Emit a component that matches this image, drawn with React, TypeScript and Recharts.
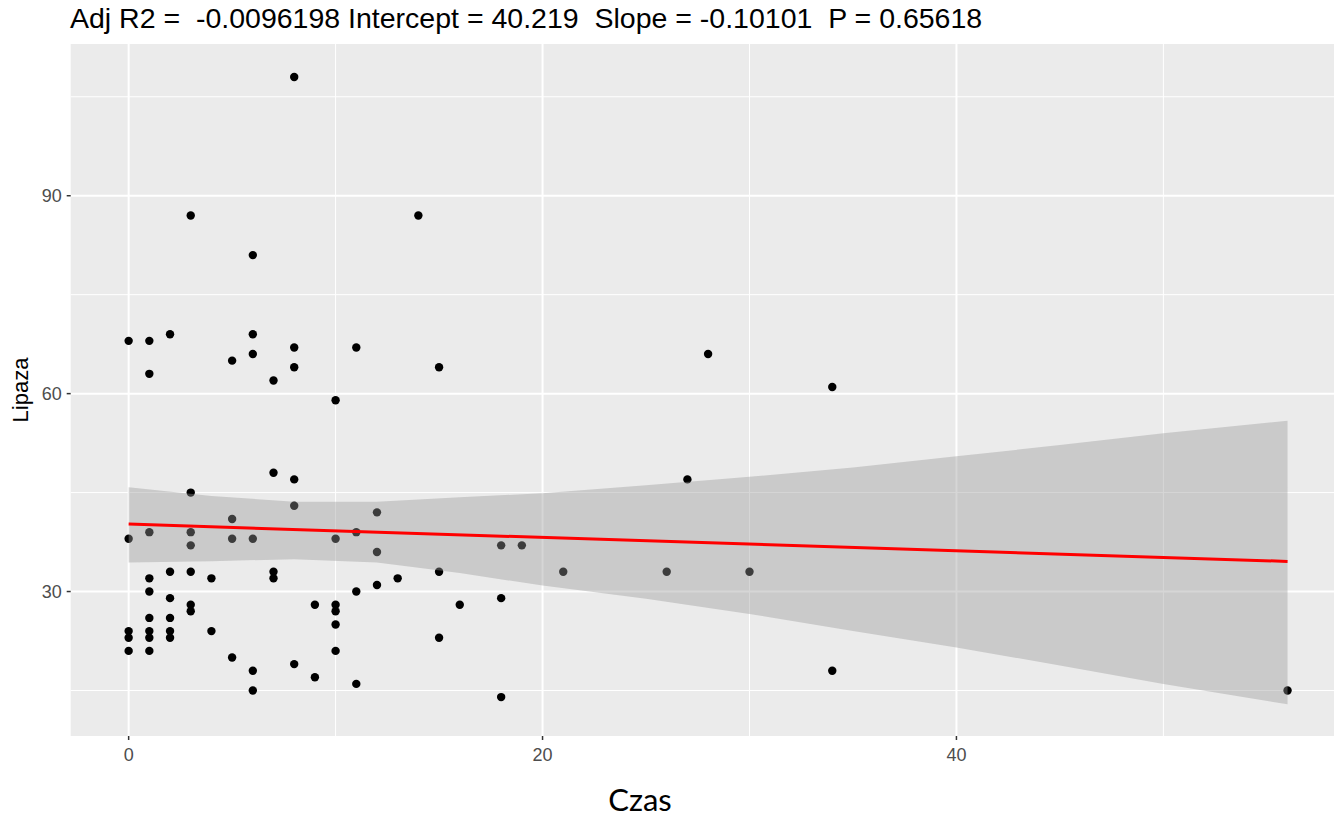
import React from 'react';
import { ComposedChart, Scatter, Area, Line, XAxis, YAxis, CartesianGrid } from 'recharts';

// Observations (Czas, Lipaza)
const czas = [
  0, 0, 0, 0, 0,
  1, 1, 1, 1, 1, 1, 1, 1, 1,
  2, 2, 2, 2, 2, 2,
  3, 3, 3, 3, 3, 3, 3,
  4, 4,
  5, 5, 5, 5,
  6, 6, 6, 6, 6, 6,
  7, 7, 7, 7,
  8, 8, 8, 8, 8, 8,
  9, 9,
  10, 10, 10, 10, 10, 10,
  11, 11, 11, 11,
  12, 12, 12,
  13,
  14,
  15, 15, 15,
  16,
  18, 18, 18,
  19,
  21,
  26,
  27,
  28,
  30,
  34, 34,
  56,
];
const lipaza = [
  68, 38, 24, 23, 21,
  68, 63, 39, 32, 30, 26, 24, 23, 21,
  69, 33, 29, 26, 24, 23,
  87, 45, 39, 37, 33, 28, 27,
  32, 24,
  65, 41, 38, 20,
  81, 69, 66, 38, 18, 15,
  62, 48, 33, 32,
  108, 67, 64, 47, 43, 19,
  28, 17,
  59, 38, 28, 27, 25, 21,
  67, 39, 30, 16,
  42, 36, 31,
  32,
  87,
  64, 33, 23,
  28,
  37, 29, 14,
  37,
  33,
  33,
  47,
  66,
  33,
  61, 18,
  15,
];

// Confidence band
const bandX = [0, 4, 8, 12, 16, 20, 25, 30, 35, 40, 45, 50, 56];
const bandLow = [34.4, 34.6, 34.9, 34.4, 32.8, 30.9, 28.9, 26.6, 24.0, 21.5, 18.8, 16.0, 12.9];
const bandHigh = [45.8, 44.5, 43.6, 43.6, 44.3, 44.9, 46.1, 47.4, 48.8, 50.5, 52.2, 54.0, 55.9];

// Fitted line ends
const fitX = [0, 56];
const fitY = [40.219, 34.563];

const xTicks = [0, 20, 40];
const xMinor = [10, 30, 50];
const yTicks = [30, 60, 90];
const yMinor = [15, 45, 75, 105];
const xDomain: [number, number] = [-2.8, 58.8];
const yDomain: [number, number] = [8.1, 113];

const titleText = 'Adj R2 =  -0.0096198 Intercept = 40.219  Slope = -0.10101  P = 0.65618';
const xLabel = 'Czas';
const yLabel = 'Lipaza';

const points = czas.map((x, i) => ({ x, y: lipaza[i] }));
const band = bandX.map((x, i) => ({ x, low: bandLow[i], high: bandHigh[i] }));
const fit = fitX.map((x, i) => ({ x, y: fitY[i] }));

const FONT = '"Liberation Sans", Arial, sans-serif';

const Dot = (p: any) => <circle cx={p.cx} cy={p.cy} r={4.2} fill="#000000" />;

export default function App() {
  return (
    <div style={{ position: 'absolute', left: 0, top: 0, width: 1334, height: 820, overflow: 'hidden', background: '#fff' }}>
      <ComposedChart
        width={1400}
        height={820}
        margin={{ top: 44, right: 54.5, bottom: 0, left: 10.7 }}
        style={{ fontFamily: FONT }}
      >
        <CartesianGrid
          fill="#EBEBEB"
          stroke="#FFFFFF"
          strokeWidth={2}
          verticalValues={xTicks}
          horizontalValues={yTicks}
        />
        <CartesianGrid
          stroke="#FFFFFF"
          strokeWidth={1}
          verticalValues={xMinor}
          horizontalValues={yMinor}
        />
        <XAxis
          dataKey="x"
          type="number"
          domain={xDomain}
          ticks={xTicks}
          allowDataOverflow
          height={84}
          axisLine={false}
          tickSize={4}
          tickMargin={8}
          tickLine={{ stroke: '#333333', strokeWidth: 1.5 }}
          tick={{ fill: '#4D4D4D', fontSize: 18, fontFamily: FONT }}
        />
        <YAxis
          type="number"
          domain={yDomain}
          ticks={yTicks}
          allowDataOverflow
          width={60}
          axisLine={false}
          tickSize={4}
          tickMargin={5}
          tickLine={{ stroke: '#333333', strokeWidth: 1.5 }}
          tick={{ fill: '#4D4D4D', fontSize: 18, fontFamily: FONT }}
        />
        <Scatter data={points} dataKey="y" shape={Dot} isAnimationActive={false} />
        <Area
          data={band}
          dataKey={(d: any) => [d.low, d.high]}
          type="linear"
          stroke="none"
          fill="#999999"
          fillOpacity={0.4}
          isAnimationActive={false}
          activeDot={false}
          zIndex={650}
        />
        <Line
          data={fit}
          dataKey="y"
          type="linear"
          stroke="#FF0000"
          strokeWidth={3}
          dot={false}
          activeDot={false}
          isAnimationActive={false}
          zIndex={700}
        />
      </ComposedChart>
      <svg width={1334} height={820} style={{ position: 'absolute', left: 0, top: 0, pointerEvents: 'none' }}>
        <text x={70} y={28} fontSize={28.5} fontFamily={FONT} fill="#000" style={{ whiteSpace: 'pre' }}>
          {titleText}
        </text>
        <text
          transform="translate(28,390) rotate(-90)"
          textAnchor="middle"
          fontSize={22}
          fontFamily={FONT}
          fill="#000"
        >
          {yLabel}
        </text>
        <text x={640} y={811} textAnchor="middle" fontSize={31} fontFamily="Lato, sans-serif" fill="#000">
          {xLabel}
        </text>
      </svg>
    </div>
  );
}
